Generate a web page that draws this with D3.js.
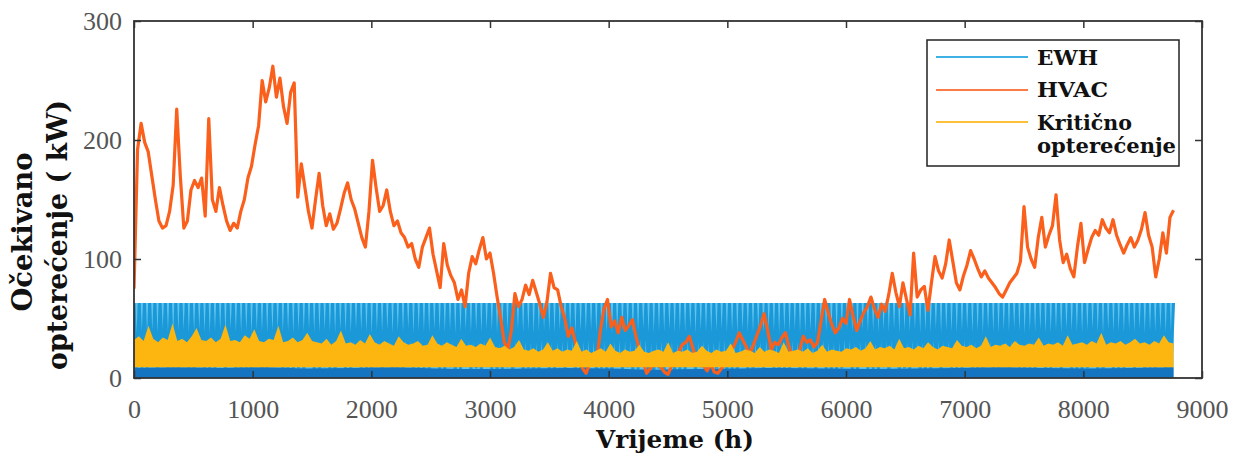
<!DOCTYPE html>
<html>
<head>
<meta charset="utf-8">
<script src="https://cdn.jsdelivr.net/npm/d3@7"></script>
<style>
  html, body { margin: 0; padding: 0; background: #fff; }
  svg { display: block; }
  .tick text { font-family: "Liberation Serif", "Times New Roman", Times, serif; }
</style>
</head>
<body>
<svg id="chart" width="1243" height="455"></svg>
<script>
// ---------------- DATA ----------------
const hoursTotal = 8760;
const xTicks = [0, 1000, 2000, 3000, 4000, 5000, 6000, 7000, 8000, 9000];
const yTicks = [0, 100, 200, 300];
const seriesNames = ["EWH", "HVAC", "Kritično opterećenje"];

// HVAC expected load (kW), evenly spaced over the year
const hvac = [75,192,214,198,190,170,150,132,126,128,140,162,226,170,126,132,158,166,160,168,
136,218,150,140,160,145,132,124,130,126,140,150,168,178,196,212,250,232,244,262,
236,252,228,214,240,248,152,180,160,140,126,150,172,145,128,138,125,130,142,155,
164,150,142,130,118,110,140,183,160,140,145,158,140,128,132,122,118,110,113,100,
93,110,118,126,104,90,76,113,95,86,80,66,74,60,88,102,96,108,118,100,
105,88,68,50,30,24,40,71,60,66,78,70,82,72,62,51,64,88,76,74,
60,50,35,42,30,20,8,4,12,20,15,40,58,66,43,48,38,51,40,44,
49,35,24,14,4,8,12,15,9,5,3,10,18,22,28,30,35,25,15,20,
10,6,12,5,4,8,12,18,24,30,38,32,26,20,28,36,44,54,40,24,
30,28,34,38,26,18,14,24,35,30,32,26,30,48,66,55,45,38,42,50,
46,66,52,40,48,55,60,68,58,51,62,56,70,88,72,60,80,66,53,105,
68,74,77,57,80,102,90,84,96,116,98,80,74,86,95,107,100,92,85,90,
84,80,76,71,68,74,80,84,88,98,144,110,100,93,118,135,110,120,128,154,
116,97,104,92,85,110,130,97,108,118,124,120,133,126,122,133,120,112,105,112,
118,110,116,125,139,120,110,85,100,122,105,135,141];

// EWH: rated peak (kW) and trough of each switching cycle (kW)
const ewhPeak = 63;
const ewhTrough = [4,7,3,9,5,12,6,3,8,10,4,6,11,5,3,7,9,4,13,6,
5,8,3,10,6,4,9,12,5,7,3,8,6,11,4,5,9,7,3,10,
6,4,12,8,5,3,9,6,10,4,7,5,13,3,8,6,4,11,7,5,
9,3,6,10,4,8,5,12,7,3,6,9,4,11,5,8,3,7,10,6,
4,9,5,12,3,7,6,10,4,8,5,3,11,6,9,4,7,13,5,3,
8,6,10,4,7,5,12,3,9,6,4,8,11,5,7,3,10,6,4,9,
5,12,7,3,8,6,10,4,5,9,3,11,7,6,4,8,12,5,3,10,
6,7,4,9,5,11,3,8,6,10,4,7,5,12,3,9,6,4,8,11,
5,7,3,10,6,4,9,5,12,7,3,8,6,10,4,5,9,3,11,7,
6,4,8,12,5,3,10,6,7,4,9,5,11,3,8,6,10,4,7];

// Critical load: lower level and upper envelope (kW)
const criticalFloor = 9;
const critical = [32,35,31,44,33,30,34,32,46,31,33,30,35,42,32,31,34,30,33,45,
31,32,30,36,33,41,31,30,33,32,44,30,31,34,30,32,38,31,
30,29,33,28,31,40,29,30,28,32,29,37,30,28,31,29,27,35,30,28,
29,31,27,28,36,29,27,30,28,26,33,27,28,26,29,27,34,26,
25,27,24,26,32,24,23,25,22,24,30,23,25,22,24,23,31,22,24,21,
23,25,22,29,23,21,24,22,23,28,22,21,23,24,22,30,21,23,22,24,
21,22,27,23,21,24,22,23,29,21,22,24,23,21,26,22,24,23,21,30,
22,23,24,22,25,21,23,28,22,24,23,22,25,
24,26,23,25,31,24,26,25,27,24,33,25,26,24,27,25,30,26,24,27,
26,25,32,27,26,28,25,27,35,26,28,27,29,26,31,28,27,29,28,34,
27,29,28,30,27,36,28,29,30,28,31,29,38,28,30,29,31,28,30,33,
29,30,28,31,29,36,30,29];

// Base (always-on) load (kW)
const baseLoad = [8.5,9,8.5,9,8,8.5,9,8,7.5,8,8.5,8,7,7.5,8,8.5,8,7.5,8,8.5,9,8.5,8,8.5,9];

// ---------------- CHART ----------------
const colors = { ewh: "#1b98d7", ewhLight: "#5ec4ee", hvac: "#fb5f1c", crit: "#fdb50f", base: "#1474c2" };
const svg = d3.select("#chart");
const x = d3.scaleLinear().domain([0, 9000]).range([134, 1202]);
const y = d3.scaleLinear().domain([0, 300]).range([378, 21]);

const even = (arr) => arr.map((v, i) => [i * hoursTotal / (arr.length - 1), v]);

svg.append("clipPath").attr("id", "clip")
  .append("rect").attr("x", 134).attr("y", 21).attr("width", 1068).attr("height", 357);
const g = svg.append("g").attr("clip-path", "url(#clip)");

// EWH light band (peak envelope)
const P = hoursTotal / ewhTrough.length;
const ewhPts = [];
ewhTrough.forEach((v, i) => { ewhPts.push([i * P, ewhPeak]); ewhPts.push([i * P + P / 2, v]); });
ewhPts.push([hoursTotal, ewhPeak]);

g.append("path")
  .datum([[0, ewhPeak], [hoursTotal, ewhPeak]])
  .attr("fill", colors.ewhLight)
  .attr("d", d3.area().x(d => x(d[0])).y0(y(0)).y1(d => y(d[1])));

g.append("path")
  .datum(ewhPts)
  .attr("fill", "none")
  .attr("stroke", colors.ewh)
  .attr("stroke-width", 3)
  .attr("d", d3.line().x(d => x(d[0])).y(d => y(d[1])));

// base load
g.append("path")
  .datum(even(baseLoad))
  .attr("fill", colors.base)
  .attr("d", d3.area().x(d => x(d[0])).y0(y(0)).y1(d => y(d[1])).curve(d3.curveMonotoneX));

// HVAC
g.append("path")
  .datum(even(hvac))
  .attr("fill", "none")
  .attr("stroke", colors.hvac)
  .attr("stroke-width", 3.2)
  .attr("stroke-linejoin", "round")
  .attr("d", d3.line().x(d => x(d[0])).y(d => y(d[1])));

// Critical load
g.append("path")
  .datum(even(critical))
  .attr("fill", colors.crit)
  .attr("d", d3.area().x(d => x(d[0])).y0(y(criticalFloor)).y1(d => y(d[1])));

// Axes (inward ticks)
const serif = "'Liberation Serif', 'Times New Roman', Times, serif";
const axisStyle = (sel) => {
  sel.attr("font-family", serif);
  sel.select(".domain").remove();
  sel.selectAll(".tick line").attr("stroke", "#333").attr("stroke-width", 1.5);
  sel.selectAll("text").attr("font-family", serif).attr("font-size", 26).attr("fill", "#555");
};
const fmt = d3.format("d");
svg.append("g").attr("transform", `translate(0,${y(0)})`)
  .call(d3.axisBottom(x).tickValues(xTicks).tickSize(-7).tickPadding(22).tickFormat(fmt)).call(axisStyle);
svg.append("g").attr("transform", `translate(0,${y(300)})`)
  .call(d3.axisTop(x).tickValues(xTicks).tickSize(-7).tickFormat("")).call(axisStyle);
svg.append("g").attr("transform", `translate(${x(0)},0)`)
  .call(d3.axisLeft(y).tickValues(yTicks).tickSize(-7).tickPadding(12).tickFormat(fmt)).call(axisStyle);
svg.append("g").attr("transform", `translate(${x(9000)},0)`)
  .call(d3.axisRight(y).tickValues(yTicks).tickSize(-7).tickFormat("")).call(axisStyle);

// frame
svg.append("rect")
  .attr("x", x(0)).attr("y", y(300))
  .attr("width", x(9000) - x(0)).attr("height", y(0) - y(300))
  .attr("fill", "none").attr("stroke", "#333").attr("stroke-width", 1.8);

// axis titles
const titleFont = "'DejaVu Serif', serif";
svg.append("text")
  .attr("x", 675).attr("y", 448)
  .attr("text-anchor", "middle")
  .attr("font-family", titleFont).attr("font-weight", "bold").attr("font-size", 25)
  .attr("textLength", 158).attr("lengthAdjust", "spacingAndGlyphs")
  .attr("fill", "#111")
  .text("Vrijeme (h)");

svg.append("text")
  .attr("transform", "translate(32,232) rotate(-90)")
  .attr("text-anchor", "middle")
  .attr("font-family", titleFont).attr("font-weight", "bold").attr("font-size", 27)
  .attr("textLength", 159).attr("lengthAdjust", "spacingAndGlyphs")
  .attr("fill", "#111")
  .text("Očekivano");
svg.append("text")
  .attr("transform", "translate(67,235) rotate(-90)")
  .attr("text-anchor", "middle")
  .attr("font-family", titleFont).attr("font-weight", "bold").attr("font-size", 27)
  .attr("textLength", 270).attr("lengthAdjust", "spacingAndGlyphs")
  .attr("fill", "#111")
  .text("opterećenje ( kW)");

// legend
const lg = svg.append("g");
lg.append("rect").attr("x", 927).attr("y", 40).attr("width", 252).attr("height", 126)
  .attr("fill", "#fff").attr("stroke", "#222").attr("stroke-width", 1.5);
const legendItems = [
  { lines: ["EWH"], color: "#3fb0e4", ly: 57, base: [65], len: [61] },
  { lines: ["HVAC"], color: "#fb7a45", ly: 90, base: [97], len: [71] },
  { lines: ["Kritično", "opterećenje"], color: "#fcc03a", ly: 122, base: [130, 153], len: [95, 139] }
];
legendItems.forEach((it) => {
  lg.append("line").attr("x1", 936).attr("x2", 1028).attr("y1", it.ly).attr("y2", it.ly)
    .attr("stroke", it.color).attr("stroke-width", 2.2);
  it.lines.forEach((t, j) => {
    lg.append("text").attr("x", 1037).attr("y", it.base[j])
      .attr("font-family", titleFont).attr("font-weight", "bold").attr("font-size", 20)
      .attr("textLength", it.len[j]).attr("lengthAdjust", "spacingAndGlyphs")
      .attr("fill", "#111").text(t);
  });
});
</script>
</body>
</html>
